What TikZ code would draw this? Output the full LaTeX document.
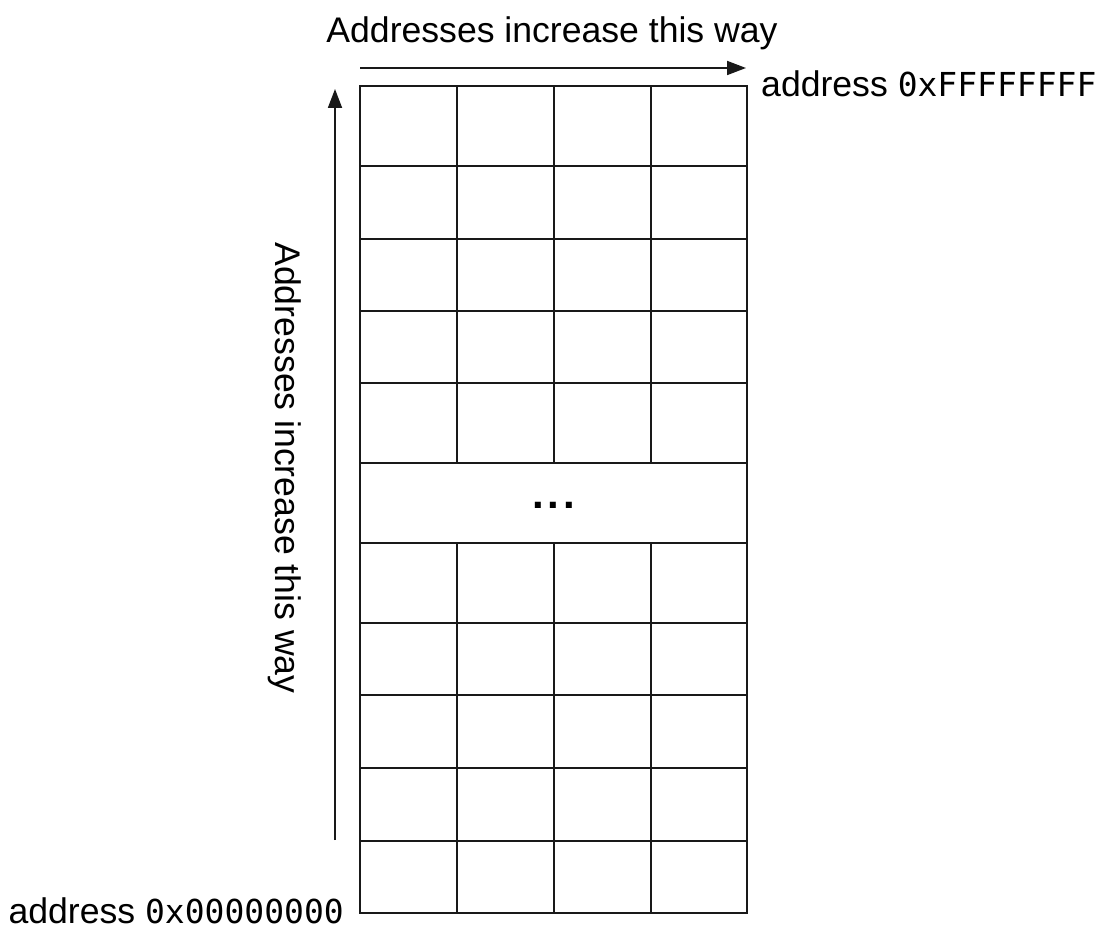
\documentclass[tikz,border=0pt]{standalone}
\usepackage{fontspec}
\setmainfont{Liberation Sans}
\newfontfamily\addrmono{DejaVu Sans Mono}
\usetikzlibrary{arrows.meta}
\begin{document}
\begin{tikzpicture}[x=1pt,y=-1pt,
  gridline/.style={line width=1.8pt, black!90},
  arr/.style={line width=1.8pt, black!90, -{Triangle[length=19pt,width=14pt]}},
  lbl/.style={inner sep=0pt, font=\fontsize{35.6}{40}\selectfont}]
\useasboundingbox (0,0) rectangle (1114,944);
% memory grid
\foreach \y in {166,239,311,383,463,543,623,695,768,841}
  \draw[gridline] (360,\y) -- (747,\y);
\foreach \x in {457,554,651} {
  \draw[gridline] (\x,86) -- (\x,463);
  \draw[gridline] (\x,543) -- (\x,913);
}
\draw[gridline] (360,86) rectangle (747,913);
% ellipsis row
\node[inner sep=0pt, anchor=base, font=\bfseries\fontsize{42}{46}\selectfont] (dots) at (553.5,508.5) {.\hspace{4pt}.\hspace{4pt}.};
% arrows
\coordinate (hs) at (360,68);
\coordinate (he) at (746,68);
\draw[arr] (hs) -- (he);
\coordinate (vs) at (335,840);
\coordinate (ve) at (335,89);
\draw[arr] (vs) -- (ve);
% labels
\node[lbl, anchor=base] (title) at (552,43) {Addresses increase this way};
\node[lbl, anchor=base, rotate=-90] (side) at (275,468) {Addresses increase this way};
\node[lbl, anchor=base west] (hi) at (761,96.5) {address {\addrmono\fontsize{33}{40}\selectfont 0xFFFFFFFF}};
\node[lbl, anchor=base east] (lo) at (344,923) {address {\addrmono\fontsize{33}{40}\selectfont 0x00000000}};
\end{tikzpicture}
\end{document}
